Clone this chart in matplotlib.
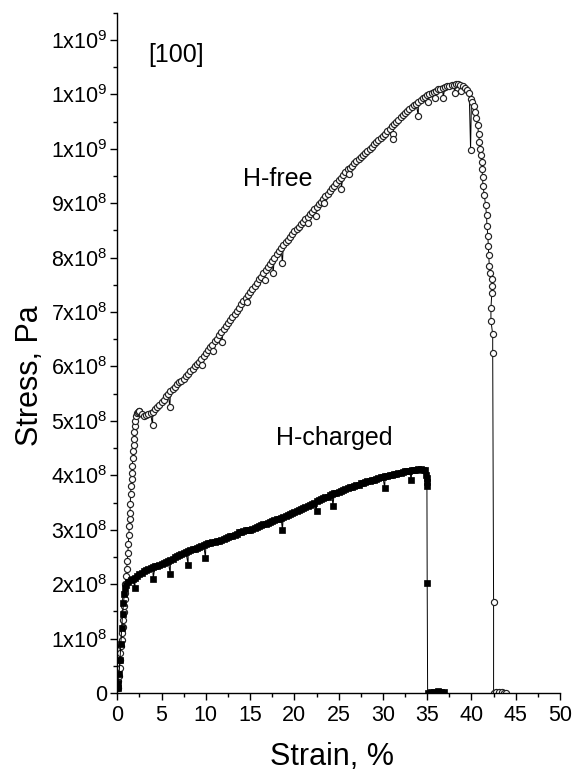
import matplotlib
matplotlib.use("Agg")
import matplotlib.pyplot as plt
from matplotlib.ticker import MultipleLocator, FixedLocator

plt.rcParams['font.family'] = ['Liberation Sans', 'DejaVu Sans']
plt.rcParams['mathtext.fontset'] = 'custom'
plt.rcParams['mathtext.rm'] = 'Liberation Sans'
plt.rcParams['mathtext.it'] = 'Liberation Sans'

# ---------------- data (stress in units of 1e8 Pa) ----------------
hfree_strain = [
    0.05, 0.12, 0.19, 0.25, 0.30, 0.35, 0.41, 0.48, 0.56, 0.62,
    0.68, 0.74, 0.79, 0.83, 0.86, 0.92, 0.98, 1.05, 1.13, 1.19,
    1.24, 1.30, 1.35, 1.40, 1.43, 1.47, 1.50, 1.56, 1.62, 1.66,
    1.69, 1.75, 1.80, 1.84, 1.88, 1.94, 1.99, 2.05, 2.10, 2.20,
    2.30, 2.40, 2.50, 2.75, 3.00, 3.25, 3.50, 3.75, 3.99, 4.00,
    4.25, 4.50, 4.75, 5.00, 5.25, 5.50, 5.75, 5.94, 6.00, 6.25,
    6.50, 6.75, 7.00, 7.25, 7.50, 7.75, 8.00, 8.25, 8.50, 8.75,
    9.00, 9.25, 9.50, 9.60, 9.75, 10.00, 10.25, 10.50, 10.75, 10.80,
    11.00, 11.25, 11.50, 11.75, 11.80, 12.00, 12.25, 12.50, 12.75, 13.00,
    13.25, 13.50, 13.75, 14.00, 14.25, 14.50, 14.60, 14.75, 15.00, 15.25,
    15.50, 15.75, 16.00, 16.25, 16.50, 16.65, 16.75, 17.00, 17.25, 17.50,
    17.60, 17.75, 18.00, 18.25, 18.50, 18.65, 18.75, 19.00, 19.25, 19.50,
    19.75, 20.00, 20.25, 20.50, 20.75, 21.00, 21.25, 21.50, 21.50, 21.75,
    22.00, 22.25, 22.40, 22.50, 22.75, 23.00, 23.25, 23.40, 23.50, 23.75,
    24.00, 24.25, 24.50, 24.75, 25.00, 25.25, 25.30, 25.50, 25.75, 26.00,
    26.20, 26.25, 26.50, 26.75, 27.00, 27.25, 27.50, 27.75, 28.00, 28.25,
    28.50, 28.75, 29.00, 29.25, 29.50, 29.75, 30.00, 30.25, 30.50, 30.75,
    31.00, 31.10, 31.10, 31.25, 31.50, 31.75, 32.00, 32.25, 32.50, 32.75,
    33.00, 33.25, 33.50, 33.75, 34.00, 34.00, 34.25, 34.50, 34.75, 35.00,
    35.10, 35.25, 35.50, 35.75, 35.90, 36.00, 36.25, 36.50, 36.75, 36.80,
    37.00, 37.25, 37.50, 37.75, 38.00, 38.10, 38.25, 38.50, 38.75, 38.80,
    39.00, 39.25, 39.50, 39.75, 39.90, 40.00, 40.10, 40.25, 40.40, 40.55,
    40.70, 40.80, 40.90, 41.00, 41.10, 41.15, 41.20, 41.25, 41.30, 41.45,
    41.60, 41.70, 41.75, 41.85, 41.90, 41.95, 42.00, 42.05, 42.30, 42.30,
    42.30, 42.20, 42.20, 42.40, 42.40, 42.50, 42.50, 42.80, 43.10, 43.40,
    43.70, 43.90,
]
hfree_stress = [
    0.10, 0.22, 0.31, 0.45, 0.61, 0.73, 0.86, 0.98, 1.10, 1.22,
    1.35, 1.48, 1.60, 1.72, 1.84, 2.00, 2.15, 2.28, 2.42, 2.57,
    2.73, 2.90, 3.07, 3.20, 3.31, 3.48, 3.65, 3.80, 3.93, 4.05,
    4.17, 4.31, 4.45, 4.56, 4.66, 4.79, 4.91, 5.00, 5.09, 5.14,
    5.16, 5.18, 5.18, 5.12, 5.09, 5.11, 5.13, 5.14, 4.92, 5.17,
    5.21, 5.25, 5.29, 5.34, 5.39, 5.45, 5.49, 5.25, 5.54, 5.58,
    5.63, 5.68, 5.71, 5.74, 5.77, 5.82, 5.86, 5.91, 5.95, 6.00,
    6.04, 6.09, 6.14, 6.02, 6.19, 6.24, 6.30, 6.35, 6.40, 6.29,
    6.46, 6.51, 6.57, 6.63, 6.45, 6.68, 6.74, 6.79, 6.85, 6.91,
    6.96, 7.02, 7.08, 7.14, 7.20, 7.25, 7.18, 7.31, 7.37, 7.43,
    7.48, 7.54, 7.60, 7.65, 7.71, 7.59, 7.77, 7.83, 7.88, 7.94,
    7.72, 8.00, 8.06, 8.12, 8.17, 7.90, 8.23, 8.28, 8.33, 8.38,
    8.43, 8.48, 8.52, 8.57, 8.62, 8.66, 8.71, 8.64, 8.75, 8.80,
    8.84, 8.89, 8.77, 8.93, 8.98, 9.03, 9.08, 9.00, 9.13, 9.17,
    9.22, 9.27, 9.32, 9.37, 9.42, 9.47, 9.26, 9.52, 9.57, 9.62,
    9.53, 9.65, 9.69, 9.73, 9.77, 9.81, 9.85, 9.89, 9.93, 9.96,
    10.00, 10.04, 10.08, 10.12, 10.16, 10.20, 10.24, 10.28, 10.33, 10.37,
    10.41, 10.27, 10.18, 10.45, 10.49, 10.53, 10.58, 10.62, 10.66, 10.70,
    10.73, 10.76, 10.80, 10.83, 10.60, 10.86, 10.90, 10.93, 10.96, 10.99,
    10.86, 11.01, 11.03, 11.05, 10.93, 11.07, 11.09, 11.10, 11.12, 10.93,
    11.13, 11.15, 11.16, 11.17, 11.18, 11.03, 11.19, 11.19, 11.17, 11.06,
    11.15, 11.12, 11.08, 11.02, 9.98, 10.92, 10.86, 10.78, 10.68, 10.56,
    10.43, 10.28, 10.12, 10.00, 9.88, 9.75, 9.63, 9.48, 9.32, 9.15,
    8.96, 8.78, 8.59, 8.40, 8.22, 8.05, 7.85, 7.72, 7.60, 7.48,
    7.35, 7.07, 6.84, 6.59, 6.25, 1.68, 0.00, 0.01, 0.02, 0.01,
    0.00, 0.00,
]

hcharged_strain = [
    0.05, 0.12, 0.20, 0.30, 0.40, 0.50, 0.60, 0.70, 0.80, 0.90,
    1.00, 1.25, 1.50, 1.75, 2.00, 2.00, 2.25, 2.50, 2.75, 3.00,
    3.25, 3.50, 3.75, 4.00, 4.06, 4.25, 4.50, 4.75, 5.00, 5.25,
    5.50, 5.75, 5.98, 6.00, 6.25, 6.50, 6.75, 7.00, 7.25, 7.50,
    7.75, 8.00, 8.00, 8.25, 8.50, 8.75, 9.00, 9.25, 9.50, 9.75,
    9.96, 10.00, 10.25, 10.50, 10.75, 11.00, 11.25, 11.50, 11.75, 12.00,
    12.25, 12.50, 12.75, 13.00, 13.25, 13.50, 13.75, 14.00, 14.25, 14.50,
    14.75, 15.00, 15.25, 15.50, 15.75, 16.00, 16.25, 16.50, 16.75, 17.00,
    17.25, 17.50, 17.75, 18.00, 18.25, 18.50, 18.65, 18.75, 19.00, 19.25,
    19.50, 19.75, 20.00, 20.25, 20.50, 20.75, 21.00, 21.25, 21.50, 21.75,
    22.00, 22.25, 22.50, 22.50, 22.75, 23.00, 23.25, 23.50, 23.75, 24.00,
    24.25, 24.35, 24.50, 24.75, 25.00, 25.25, 25.50, 25.75, 26.00, 26.25,
    26.50, 26.75, 27.00, 27.25, 27.50, 27.75, 28.00, 28.25, 28.50, 28.75,
    29.00, 29.25, 29.50, 29.75, 30.00, 30.20, 30.25, 30.50, 30.75, 31.00,
    31.25, 31.50, 31.75, 32.00, 32.25, 32.50, 32.75, 33.00, 33.20, 33.25,
    33.50, 33.75, 34.00, 34.25, 34.50, 34.75, 34.90, 34.95, 34.95, 34.97,
    35.00, 35.05, 35.40, 35.80, 36.20, 36.60, 36.90,
]
hcharged_stress = [
    0.10, 0.18, 0.35, 0.60, 0.90, 1.20, 1.45, 1.65, 1.82, 1.92,
    1.98, 2.04, 2.08, 2.10, 1.93, 2.12, 2.15, 2.18, 2.21, 2.24,
    2.26, 2.28, 2.29, 2.31, 2.10, 2.33, 2.34, 2.36, 2.37, 2.39,
    2.41, 2.42, 2.19, 2.45, 2.47, 2.50, 2.52, 2.54, 2.56, 2.57,
    2.59, 2.36, 2.60, 2.62, 2.64, 2.65, 2.67, 2.68, 2.70, 2.72,
    2.48, 2.73, 2.75, 2.76, 2.77, 2.78, 2.79, 2.80, 2.82, 2.83,
    2.85, 2.86, 2.88, 2.89, 2.91, 2.93, 2.95, 2.96, 2.98, 2.99,
    2.99, 3.00, 3.01, 3.03, 3.05, 3.06, 3.08, 3.10, 3.11, 3.13,
    3.14, 3.16, 3.18, 3.19, 3.20, 3.22, 3.00, 3.24, 3.25, 3.27,
    3.29, 3.31, 3.32, 3.34, 3.36, 3.38, 3.40, 3.42, 3.44, 3.46,
    3.48, 3.50, 3.34, 3.53, 3.55, 3.56, 3.58, 3.60, 3.61, 3.63,
    3.65, 3.43, 3.67, 3.68, 3.70, 3.71, 3.73, 3.74, 3.76, 3.78,
    3.79, 3.81, 3.82, 3.83, 3.85, 3.86, 3.87, 3.89, 3.90, 3.91,
    3.92, 3.93, 3.95, 3.96, 3.97, 3.77, 3.98, 3.99, 4.00, 4.01,
    4.02, 4.03, 4.04, 4.05, 4.06, 4.07, 4.08, 4.08, 3.92, 4.09,
    4.10, 4.10, 4.11, 4.11, 4.10, 4.09, 4.00, 3.95, 3.88, 3.80,
    2.03, 0.00, 0.01, 0.02, 0.03, 0.02, 0.01,
]

ytick_values = [0, 1e8, 2e8, 3e8, 4e8, 5e8, 6e8, 7e8, 8e8, 9e8, 1.0e9, 1.1e9, 1.2e9]
ytick_labels = ['0', '1x10^{8}', '2x10^{8}', '3x10^{8}', '4x10^{8}', '5x10^{8}',
                '6x10^{8}', '7x10^{8}', '8x10^{8}', '9x10^{8}',
                '1x10^{9}', '1x10^{9}', '1x10^{9}']
xtick_values = [0, 5, 10, 15, 20, 25, 30, 35, 40, 45, 50]

annotations = [("[100]", 3.45, 11.6e8), ("H-free", 14.2, 9.32e8), ("H-charged", 17.9, 4.55e8)]

# ---------------- figure ----------------
fig = plt.figure(figsize=(5.75, 7.71), dpi=100)
ax = fig.add_axes([0.204, 0.1012, 0.7699, 0.8823])

scale = 1e8
ax.plot(hfree_strain, [v * scale for v in hfree_stress], color='black', lw=0.7,
        marker='o', ms=4.4, mfc='white', mec='#202020', mew=0.85, zorder=2)
ax.plot(hcharged_strain, [v * scale for v in hcharged_stress], color='black', lw=0.7,
        marker='s', ms=4.0, mfc='black', mec='black', mew=0.5, zorder=3)

ax.set_xlim(0, 50)
ax.set_ylim(0, 1.25e9)

ax.xaxis.set_major_locator(FixedLocator(xtick_values))
ax.xaxis.set_minor_locator(MultipleLocator(2.5))
ax.yaxis.set_major_locator(FixedLocator(ytick_values))
ax.yaxis.set_minor_locator(MultipleLocator(0.5e8))
ax.set_yticklabels([l if l == '0' else r'$\mathregular{' + l + '}$' for l in ytick_labels])
ax.set_xticklabels([str(v) for v in xtick_values])

for s in ['top', 'right']:
    ax.spines[s].set_visible(False)
for s in ['left', 'bottom']:
    ax.spines[s].set_linewidth(1.0)

ax.tick_params(which='major', direction='out', length=5, width=1.0, labelsize=15.5)
ax.tick_params(which='minor', direction='out', length=3, width=1.0)
ax.tick_params(axis='y', which='major', pad=2)
ax.tick_params(axis='x', which='major', pad=4)

ax.set_xlabel('Strain, %', fontsize=22)
ax.set_ylabel('Stress, Pa', fontsize=22)
ax.xaxis.set_label_coords(0.484, -0.072)
ax.yaxis.set_label_coords(-0.163, 0.467)

for txt, x, y in annotations:
    ax.text(x, y, txt, fontsize=18, ha='left', va='baseline')

fig.savefig('out.png', dpi=100)
